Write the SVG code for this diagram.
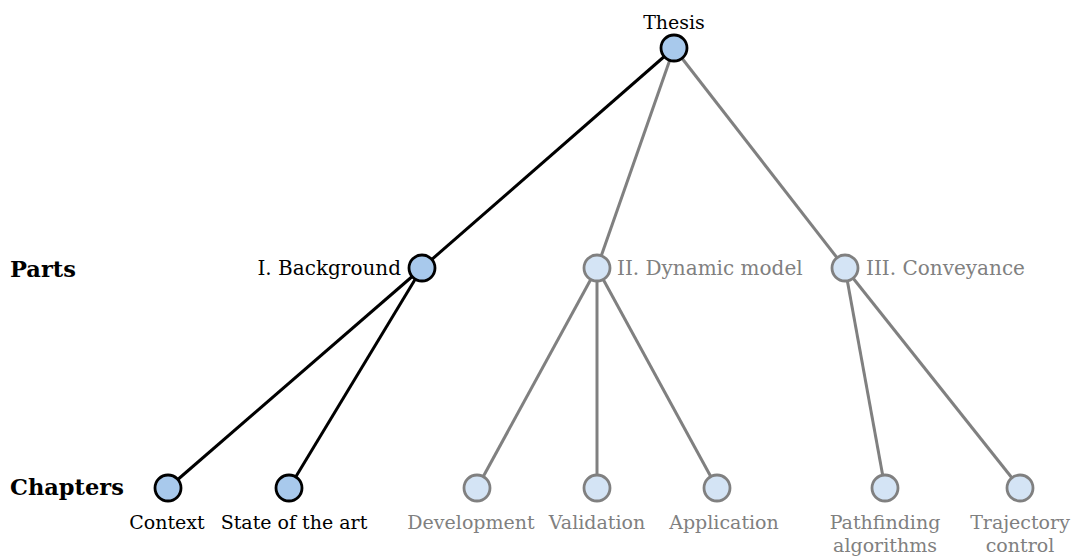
<svg xmlns="http://www.w3.org/2000/svg" width="1076" height="558" viewBox="0 0 1076 558">
  <style>
    text { font-family: "DejaVu Serif", "Liberation Serif", serif; font-size: 20px; }
    .head { font-weight: bold; fill: #000; font-size: 22.5px; }
    .ch { font-size: 19px; }
    .on { fill: #000; }
    .off { fill: #808080; }
    .mid { text-anchor: middle; }
    .e-on { stroke: #000; stroke-width: 3; fill: none; }
    .e-off { stroke: #808080; stroke-width: 3; fill: none; }
    .n-on { fill: #a8c9ec; stroke: #000; stroke-width: 2.8; }
    .n-off { fill: #d4e4f5; stroke: #808080; stroke-width: 2.8; }
  </style>
  <rect width="1076" height="558" fill="#fff"/>

  <!-- level headings -->
  <text class="head" x="10" y="277">Parts</text>
  <text class="head" x="10" y="495">Chapters</text>

  <!-- connectors -->
  <g id="edges">
    <line class="e-on" x1="674" y1="48" x2="422" y2="268"/>
    <line class="e-off" x1="674" y1="48" x2="597" y2="268"/>
    <line class="e-off" x1="674" y1="48" x2="845" y2="268"/>
    <line class="e-on" x1="422" y1="268" x2="168" y2="488"/>
    <line class="e-on" x1="422" y1="268" x2="289" y2="488"/>
    <line class="e-off" x1="597" y1="268" x2="477" y2="488"/>
    <line class="e-off" x1="597" y1="268" x2="597" y2="488"/>
    <line class="e-off" x1="597" y1="268" x2="717" y2="488"/>
    <line class="e-off" x1="845" y1="268" x2="885" y2="488"/>
    <line class="e-off" x1="845" y1="268" x2="1020" y2="488"/>
  </g>

  <g id="thesis">
    <circle class="n-on" cx="674" cy="48" r="13"/>
    <text class="on mid" x="674" y="29" style="font-size:19px">Thesis</text>
  </g>

  <g id="part-background">
    <circle class="n-on" cx="422" cy="268" r="13"/>
    <text class="on" x="401" y="275" text-anchor="end">I. Background</text>
  </g>
  <g id="part-dynamic-model">
    <circle class="n-off" cx="597" cy="268" r="13"/>
    <text class="off" x="617" y="275">II. Dynamic model</text>
  </g>
  <g id="part-conveyance">
    <circle class="n-off" cx="845" cy="268" r="13"/>
    <text class="off" x="866" y="275">III. Conveyance</text>
  </g>

  <g id="ch-context">
    <circle class="n-on" cx="168" cy="488" r="13"/>
    <text class="ch on mid" x="167" y="529">Context</text>
  </g>
  <g id="ch-state-of-the-art">
    <circle class="n-on" cx="289" cy="488" r="13"/>
    <text class="ch on mid" x="294" y="529">State of the art</text>
  </g>
  <g id="ch-development">
    <circle class="n-off" cx="477" cy="488" r="13"/>
    <text class="ch off mid" x="471" y="529">Development</text>
  </g>
  <g id="ch-validation">
    <circle class="n-off" cx="597" cy="488" r="13"/>
    <text class="ch off mid" x="597" y="529">Validation</text>
  </g>
  <g id="ch-application">
    <circle class="n-off" cx="717" cy="488" r="13"/>
    <text class="ch off mid" x="724" y="529">Application</text>
  </g>
  <g id="ch-pathfinding">
    <circle class="n-off" cx="885" cy="488" r="13"/>
    <text class="ch off mid" x="885" y="529">Pathfinding</text>
    <text class="ch off mid" x="885" y="551.5">algorithms</text>
  </g>
  <g id="ch-trajectory">
    <circle class="n-off" cx="1020" cy="488" r="13"/>
    <text class="ch off mid" x="1020" y="529">Trajectory</text>
    <text class="ch off mid" x="1020" y="551.5">control</text>
  </g>
</svg>
